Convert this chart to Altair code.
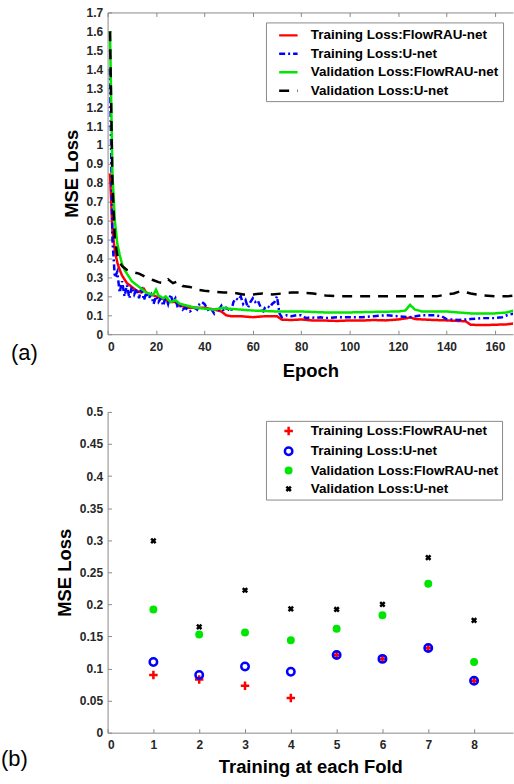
import altair as alt
import pandas as pd

FONT = "Liberation Sans"
AXIS_GRAY = "#8a8a8a"

# ---------------- panel (a) data ----------------
series_a = ["Training Loss:FlowRAU-net", "Training Loss:U-net",
            "Validation Loss:FlowRAU-net", "Validation Loss:U-net"]
colors_a = ["#ff0000", "#0000ff", "#00e600", "#000000"]
dashes_a = [[1, 0], [6, 3, 2, 3], [1, 0], [10, 8]]

epochs_red = [1, 2, 3, 4, 5, 6, 7, 8, 10, 12, 14, 15, 16, 18, 20, 22, 24, 26, 28, 30,
              33, 36, 40, 44, 47, 49, 51, 55, 60, 65, 70, 72, 76, 80, 85, 90, 95, 100,
              105, 110, 115, 120, 124, 125, 127, 130, 135, 140, 145, 148, 150, 155, 160,
              165, 168]
loss_red = [0.85, 0.55, 0.44, 0.38, 0.34, 0.31, 0.29, 0.27, 0.25, 0.23, 0.22, 0.24, 0.22,
            0.21, 0.20, 0.19, 0.18, 0.17, 0.17, 0.15, 0.14, 0.14, 0.14, 0.13, 0.12, 0.10,
            0.095, 0.095, 0.09, 0.095, 0.095, 0.077, 0.075, 0.078, 0.072, 0.072, 0.07,
            0.073, 0.072, 0.075, 0.073, 0.078, 0.085, 0.09, 0.08, 0.078, 0.075, 0.073,
            0.07, 0.068, 0.05, 0.048, 0.05, 0.052, 0.057]

epochs_blue = list(range(1, 73)) + [74, 76, 78, 80, 82, 84, 86, 88, 90, 95, 100, 105,
                                    110, 115, 120, 125, 130, 135, 138, 140, 145, 150,
                                    155, 160, 163, 165, 168]
loss_blue = [1.4, 0.5, 0.3, 0.33, 0.22, 0.28, 0.2, 0.26, 0.19, 0.25,
             0.21, 0.24, 0.19, 0.25, 0.18, 0.22, 0.19, 0.21, 0.16, 0.2,
             0.17, 0.19, 0.15, 0.2, 0.16, 0.21, 0.17, 0.19, 0.14, 0.15,
             0.13, 0.14, 0.13, 0.12, 0.13, 0.14, 0.13, 0.16, 0.17, 0.16,
             0.14, 0.12, 0.13, 0.11, 0.14, 0.13, 0.15, 0.12, 0.14, 0.13,
             0.12, 0.17, 0.19, 0.18, 0.2, 0.16, 0.18, 0.14, 0.17, 0.19,
             0.17, 0.18, 0.15, 0.11, 0.14, 0.15, 0.14, 0.16, 0.17, 0.2,
             0.11, 0.09,
             0.1, 0.095, 0.1, 0.1, 0.085, 0.09, 0.085, 0.09, 0.085, 0.09, 0.09, 0.09,
             0.095, 0.1, 0.095, 0.09, 0.1, 0.1, 0.095, 0.08, 0.075, 0.08, 0.085, 0.085,
             0.09, 0.1, 0.11]

epochs_green = [1, 2, 3, 4, 5, 6, 7, 8, 10, 12, 14, 16, 18, 19, 20, 21, 23, 24, 25, 26,
                28, 30, 33, 36, 40, 44, 48, 50, 55, 60, 70, 80, 90, 100, 110, 120, 123,
                125, 127, 130, 140, 150, 155, 160, 165, 168]
loss_green = [1.6, 0.85, 0.6, 0.48, 0.42, 0.37, 0.34, 0.32, 0.28, 0.26, 0.24, 0.22, 0.21,
              0.21, 0.235, 0.205, 0.19, 0.20, 0.185, 0.17, 0.18, 0.16, 0.15, 0.14, 0.135,
              0.13, 0.14, 0.135, 0.13, 0.125, 0.12, 0.12, 0.115, 0.115, 0.118, 0.12,
              0.125, 0.155, 0.13, 0.12, 0.12, 0.11, 0.11, 0.11, 0.115, 0.125]

epochs_black = [1, 2, 3, 4, 5, 6, 8, 10, 13, 16, 19, 21, 23, 25, 27, 29, 31, 34, 37, 40,
                44, 48, 52, 56, 60, 64, 68, 72, 76, 80, 85, 90, 95, 100, 110, 120, 130,
                136, 140, 143, 146, 150, 155, 160, 165, 168]
loss_black = [1.6, 0.8, 0.5, 0.42, 0.38, 0.36, 0.34, 0.33, 0.32, 0.30, 0.285, 0.275, 0.27,
              0.29, 0.27, 0.28, 0.255, 0.25, 0.235, 0.23, 0.225, 0.22, 0.22, 0.21, 0.21,
              0.215, 0.21, 0.215, 0.22, 0.22, 0.215, 0.205, 0.2, 0.2, 0.2, 0.2, 0.2, 0.2,
              0.21, 0.215, 0.228, 0.215, 0.205, 0.2, 0.2, 0.205]

xticks_a = [0, 20, 40, 60, 80, 100, 120, 140, 160]
yticks_a = [0, 0.1, 0.2, 0.3, 0.4, 0.5, 0.6, 0.7, 0.8, 0.9, 1, 1.1, 1.2, 1.3, 1.4, 1.5,
            1.6, 1.7]

# ---------------- panel (b) data ----------------
series_b = series_a
folds = [1, 2, 3, 4, 5, 6, 7, 8]
fold_train_flow = [0.09, 0.083, 0.073, 0.054, 0.121, 0.115, 0.132, 0.081]
fold_train_unet = [0.11, 0.09, 0.103, 0.095, 0.121, 0.115, 0.132, 0.081]
fold_val_flow = [0.192, 0.153, 0.156, 0.144, 0.162, 0.183, 0.232, 0.110]
fold_val_unet = [0.299, 0.165, 0.222, 0.193, 0.192, 0.200, 0.273, 0.175]

xticks_b = [0, 1, 2, 3, 4, 5, 6, 7, 8]
yticks_b = [0, 0.05, 0.1, 0.15, 0.2, 0.25, 0.3, 0.35, 0.4, 0.45, 0.5]

shapes_b = ["M-0.85,0H0.85M0,-0.85V0.85",
            "M0.75,0A0.75,0.75,0,1,1,-0.75,0A0.75,0.75,0,1,1,0.75,0Z",
            "M0.55,0A0.55,0.55,0,1,1,-0.55,0A0.55,0.55,0,1,1,0.55,0Z",
            "M-0.45,-0.45L0.45,0.45M0.45,-0.45L-0.45,0.45"]
fills_b = ["transparent", "transparent", "#00e600", "transparent"]
strokes_b = ["#ff0000", "#0000ff", "#00e600", "#000000"]

# legend line sample: a long horizontal stroke drawn on a small symbol cell
LINE_SYMBOL = "M-1.233,0H1.233"

# ---------------- tables ----------------
rows_a = []
for name, ep, vals in [(series_a[0], epochs_red, loss_red),
                       (series_a[1], epochs_blue, loss_blue),
                       (series_a[2], epochs_green, loss_green),
                       (series_a[3], epochs_black, loss_black)]:
    for e, v in zip(ep, vals):
        rows_a.append({"series": name, "epoch": e, "loss": v})
df_a = pd.DataFrame(rows_a)

rows_b = []
for name, vals in zip(series_b, [fold_train_flow, fold_train_unet, fold_val_flow, fold_val_unet]):
    for f, v in zip(folds, vals):
        rows_b.append({"series": name, "fold": f, "loss": v})
df_b = pd.DataFrame(rows_b)

dummy = pd.DataFrame({"x": [0], "y": [0]})

tick_axis = dict(ticks=True, tickSize=4, offset=-4, labels=False, domain=False,
                 grid=False, title=None, tickColor=AXIS_GRAY, tickWidth=1)


def legend_kw(symbol_size, row_padding, padding):
    return dict(title=None, orient="none", direction="vertical", fillColor="white",
                strokeColor=AXIS_GRAY, padding=padding, labelFont=FONT, labelFontSize=13.5,
                labelFontWeight="bold", labelColor="black", labelLimit=0,
                rowPadding=row_padding, symbolSize=symbol_size, symbolStrokeWidth=2.5)


# ---------------- panel (a) ----------------
xs_a = alt.Scale(domain=[0, 167.5], nice=False, zero=False)
ys_a = alt.Scale(domain=[0, 1.7], nice=False)
leg_a = alt.Legend(legendX=159, legendY=10, symbolType=LINE_SYMBOL, symbolOffset=9.5,
                   labelOffset=13.5, **legend_kw(225, 2.5, 4))

lines = alt.Chart(df_a).mark_line(strokeWidth=2.5, clip=True).encode(
    x=alt.X("epoch:Q", scale=xs_a,
            axis=alt.Axis(orient="bottom", values=xticks_a, ticks=False, tickSize=0,
                          labelPadding=7, title="Epoch", titlePadding=9, grid=False)),
    y=alt.Y("loss:Q", scale=ys_a,
            axis=alt.Axis(orient="left", values=yticks_a, format="~g", ticks=False,
                          tickSize=0, labelPadding=5, title="MSE Loss", titlePadding=5,
                          grid=False)),
    color=alt.Color("series:N", scale=alt.Scale(domain=series_a, range=colors_a),
                    legend=leg_a),
    strokeDash=alt.StrokeDash("series:N", scale=alt.Scale(domain=series_a, range=dashes_a),
                              legend=leg_a),
)

ticks_a1 = alt.Chart(dummy).mark_point(opacity=0).encode(
    x=alt.X("x:Q", scale=xs_a, axis=alt.Axis(orient="bottom", values=xticks_a, **tick_axis)),
    y=alt.Y("y:Q", scale=ys_a, axis=alt.Axis(orient="left", values=yticks_a, **tick_axis)),
)
ticks_a2 = alt.Chart(dummy).mark_point(opacity=0).encode(
    x=alt.X("x:Q", scale=xs_a, axis=alt.Axis(orient="top", values=xticks_a, **tick_axis)),
    y=alt.Y("y:Q", scale=ys_a, axis=None),
)
frame_top = alt.Chart(dummy).mark_point(opacity=0).encode(
    x=alt.X("x:Q", scale=xs_a, axis=alt.Axis(orient="top", ticks=False, labels=False,
                                              domain=True, grid=False, title=None)),
    y=alt.Y("y:Q", scale=ys_a, axis=None),
)
label_a = alt.Chart(pd.DataFrame({"t": ["(a)"]})).mark_text(
    align="left", baseline="middle", font=FONT, fontSize=22, color="black"
).encode(x=alt.value(-97), y=alt.value(342), text="t:N")

panel_a = alt.layer(lines, ticks_a1, ticks_a2, frame_top, label_a).resolve_axis(
    x="independent", y="independent").properties(width=407, height=323)

# ---------------- panel (b) ----------------
xs_b = alt.Scale(domain=[0, 8.85], nice=False, zero=False)
ys_b = alt.Scale(domain=[0, 0.5], nice=False)
leg_b = alt.Legend(legendX=159, legendY=9, symbolOffset=12.5, labelOffset=15.5,
                   **legend_kw(100, 2.3, 3.5))

points = alt.Chart(df_b).mark_point(size=100, strokeWidth=2.5, opacity=1).encode(
    x=alt.X("fold:Q", scale=xs_b,
            axis=alt.Axis(orient="bottom", values=xticks_b, ticks=False, tickSize=0,
                          labelPadding=7, title="Training at each Fold", titlePadding=7,
                          grid=False)),
    y=alt.Y("loss:Q", scale=ys_b,
            axis=alt.Axis(orient="left", values=yticks_b, format="~g", ticks=False,
                          tickSize=0, labelPadding=5, title="MSE Loss", titlePadding=5,
                          grid=False)),
    shape=alt.Shape("series:N", scale=alt.Scale(domain=series_b, range=shapes_b), legend=leg_b),
    fill=alt.Fill("series:N", scale=alt.Scale(domain=series_b, range=fills_b), legend=leg_b),
    stroke=alt.Stroke("series:N", scale=alt.Scale(domain=series_b, range=strokes_b), legend=leg_b),
)
ticks_b1 = alt.Chart(dummy).mark_point(opacity=0).encode(
    x=alt.X("x:Q", scale=xs_b, axis=alt.Axis(orient="bottom", values=xticks_b, **tick_axis)),
    y=alt.Y("y:Q", scale=ys_b, axis=alt.Axis(orient="left", values=yticks_b, **tick_axis)),
)
label_b = alt.Chart(pd.DataFrame({"t": ["(b)"]})).mark_text(
    align="left", baseline="middle", font=FONT, fontSize=22, color="black"
).encode(x=alt.value(-107), y=alt.value(348), text="t:N")

panel_b = alt.layer(points, ticks_b1, label_b).resolve_axis(
    x="independent", y="independent").properties(width=407, height=322)

chart = alt.vconcat(panel_a, panel_b, spacing=25).resolve_scale(
    color="independent", strokeDash="independent", shape="independent",
    fill="independent", stroke="independent"
).properties(
    padding={"left": 0, "top": 4, "right": 0, "bottom": 0},
    background="white",
).configure(font=FONT).configure_axis(
    labelFont=FONT, labelFontSize=12, labelFontWeight="bold", labelColor="#262626",
    titleFont=FONT, titleFontSize=18.5, titleFontWeight="bold", titleColor="black",
    domainColor=AXIS_GRAY, tickColor=AXIS_GRAY, grid=False,
).configure_view(stroke="transparent")

chart.save("out.html", embed_options={"renderer": "svg", "actions": False})
